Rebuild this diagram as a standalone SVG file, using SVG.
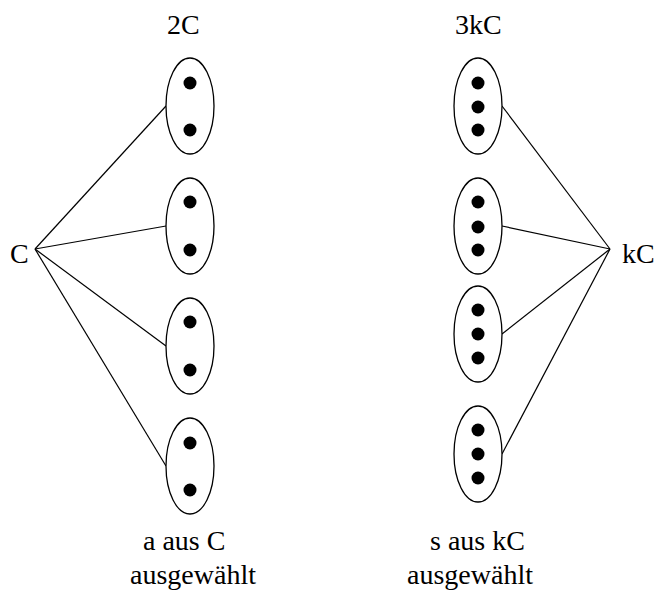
<svg xmlns="http://www.w3.org/2000/svg" width="656" height="592" viewBox="0 0 656 592">
  <style>
    .set { fill: #fff; stroke: #000; stroke-width: 1.3; }
    .dot { fill: #000; }
    .edge { stroke: #000; stroke-width: 1.2; fill: none; }
    .lbl { font-family: "Liberation Serif", "DejaVu Serif", "Times New Roman", serif; font-size: 28px; fill: #000; }
  </style>
  <rect width="656" height="592" fill="#fff"/>

  <!-- connectors -->
  <g id="connectors" class="edge">
    <line x1="35" y1="249" x2="166" y2="106"/>
    <line x1="35" y1="249" x2="166" y2="226"/>
    <line x1="35" y1="249" x2="166" y2="346"/>
    <line x1="35" y1="249" x2="166" y2="466"/>
    <line x1="610" y1="249" x2="502" y2="106"/>
    <line x1="610" y1="249" x2="502" y2="226"/>
    <line x1="610" y1="249" x2="502" y2="334"/>
    <line x1="610" y1="249" x2="502" y2="454"/>
  </g>

  <!-- source nodes -->
  <g id="node-C"><text class="lbl" x="10" y="263">C</text></g>
  <g id="node-kC"><text class="lbl" x="622" y="263">kC</text></g>
  <!-- column headings -->
  <g id="label-2C"><text class="lbl" x="167" y="34">2C</text></g>
  <g id="label-3kC"><text class="lbl" x="455" y="34">3kC</text></g>
  <!-- captions -->
  <g id="caption-left">
    <text class="lbl" x="143" y="550">a aus C</text>
    <text class="lbl" x="130" y="584">ausgewählt</text>
  </g>
  <g id="caption-right">
    <text class="lbl" x="430" y="550">s aus kC</text>
    <text class="lbl" x="407" y="584">ausgewählt</text>
  </g>

  <!-- left column: pairs -->
  <g id="pair-1">
    <ellipse class="set" cx="190" cy="106" rx="24" ry="48"/>
    <circle class="dot" cx="190" cy="83" r="6.5"/><circle class="dot" cx="190" cy="130" r="6.5"/>
  </g>
  <g id="pair-2">
    <ellipse class="set" cx="190" cy="226" rx="24" ry="48"/>
    <circle class="dot" cx="190" cy="202" r="6.5"/><circle class="dot" cx="190" cy="250" r="6.5"/>
  </g>
  <g id="pair-3">
    <ellipse class="set" cx="190" cy="346" rx="24" ry="48"/>
    <circle class="dot" cx="190" cy="322" r="6.5"/><circle class="dot" cx="190" cy="370" r="6.5"/>
  </g>
  <g id="pair-4">
    <ellipse class="set" cx="190" cy="466" rx="24" ry="48"/>
    <circle class="dot" cx="190" cy="443" r="6.5"/><circle class="dot" cx="190" cy="490" r="6.5"/>
  </g>

  <!-- right column: triples -->
  <g id="triple-1">
    <ellipse class="set" cx="478" cy="106" rx="24" ry="48"/>
    <circle class="dot" cx="478" cy="83" r="6.5"/><circle class="dot" cx="478" cy="107" r="6.5"/><circle class="dot" cx="478" cy="130" r="6.5"/>
  </g>
  <g id="triple-2">
    <ellipse class="set" cx="478" cy="226" rx="24" ry="48"/>
    <circle class="dot" cx="478" cy="202" r="6.5"/><circle class="dot" cx="478" cy="227" r="6.5"/><circle class="dot" cx="478" cy="250" r="6.5"/>
  </g>
  <g id="triple-3">
    <ellipse class="set" cx="478" cy="334" rx="24" ry="48"/>
    <circle class="dot" cx="478" cy="310" r="6.5"/><circle class="dot" cx="478" cy="334" r="6.5"/><circle class="dot" cx="478" cy="358" r="6.5"/>
  </g>
  <g id="triple-4">
    <ellipse class="set" cx="478" cy="454" rx="24" ry="48"/>
    <circle class="dot" cx="478" cy="430" r="6.5"/><circle class="dot" cx="478" cy="454" r="6.5"/><circle class="dot" cx="478" cy="478" r="6.5"/>
  </g>
</svg>
